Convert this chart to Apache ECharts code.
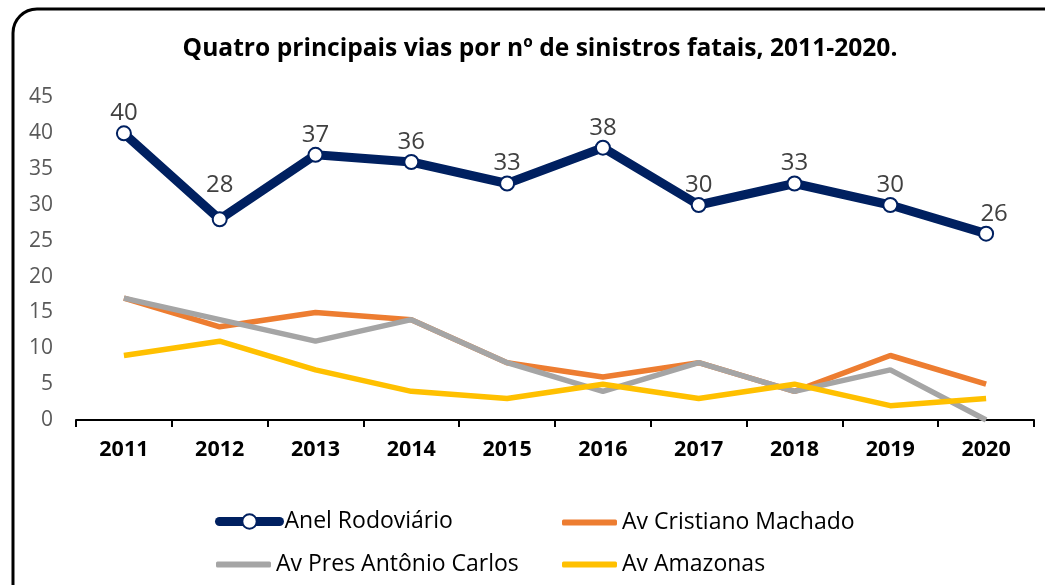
<!DOCTYPE html>
<html>
<head>
<meta charset="utf-8">
<script src="https://cdn.jsdelivr.net/npm/echarts@6/dist/echarts.min.js"></script>
<style>
  html, body { margin: 0; padding: 0; background: #fff; }
  #chart { width: 1045px; height: 585px; }
</style>
</head>
<body>
<div id="chart"></div>
<script>
// Fatal crashes per year on the four main roads
const years = ['2011', '2012', '2013', '2014', '2015', '2016', '2017', '2018', '2019', '2020'];
const anelRodoviario = [40, 28, 37, 36, 33, 38, 30, 33, 30, 26];
const avCristianoMachado = [17, 13, 15, 14, 8, 6, 8, 4, 9, 5];
const avPresAntonioCarlos = [17, 14, 11, 14, 8, 4, 8, 4, 7, 0];
const avAmazonas = [9, 11, 7, 4, 3, 5, 3, 5, 2, 3];
const yTicks = [0, 5, 10, 15, 20, 25, 30, 35, 40, 45];

const FONT = 'Open Sans';
const NAVY = '#002060';
const chart = echarts.init(document.getElementById('chart'), null, { renderer: 'canvas' });

// One legend block per entry so the 2x2 layout can be placed freely
function legendItem(name, left, top, extra) {
  return Object.assign({
    data: [name],
    left: left, top: top,
    orient: 'horizontal',
    itemWidth: 55, itemHeight: 6, itemGap: 2,
    icon: 'roundRect',
    textStyle: { fontFamily: FONT, fontSize: 23, color: '#000' },
    padding: 0
  }, extra || {});
}

// Anel labels: the 2012 label sits a little higher; the 2020 one is nudged right
const anelData = anelRodoviario.map(function (v, i) {
  if (i === 1) {
    return { value: v, label: { distance: 14 } };
  }
  if (i === anelRodoviario.length - 1) {
    return { value: v, label: { offset: [8, 0] } };
  }
  return v;
});

chart.setOption({
  animation: false,
  backgroundColor: '#fff',
  title: {
    text: 'Quatro principais vias por nº de sinistros fatais, 2011-2020.',
    left: 535, top: 31, textAlign: 'center',
    textStyle: { fontFamily: FONT, fontWeight: 'bold', fontSize: 24.6, color: '#000' }
  },
  graphic: [
    {
      type: 'rect',
      shape: { x: 13, y: 9, width: 1080, height: 640, r: 24 },
      style: { fill: 'none', stroke: '#000', lineWidth: 3 },
      silent: true, z: 100
    }
  ],
  legend: [
    legendItem('Anel Rodoviário', 215, 510, {
      itemWidth: 60, itemHeight: 18, icon: undefined,
      lineStyle: { width: 9, cap: 'round' }
    }),
    legendItem('Av Cristiano Machado', 562, 511),
    legendItem('Av Pres Antônio Carlos', 216, 553),
    legendItem('Av Amazonas', 562, 553)
  ],
  grid: { left: 76, right: 11, top: 97.5, bottom: 165, containLabel: false },
  xAxis: {
    type: 'category',
    data: years,
    boundaryGap: true,
    axisLine: { lineStyle: { color: '#000', width: 2 } },
    axisTick: { show: true, length: 7, lineStyle: { color: '#000', width: 2 } },
    axisLabel: { fontFamily: FONT, fontWeight: 'bold', fontSize: 21.5, color: '#000', margin: 19 }
  },
  yAxis: {
    type: 'value',
    min: yTicks[0], max: yTicks[yTicks.length - 1], interval: 5,
    axisLine: { show: false },
    axisTick: { show: false },
    splitLine: { show: false },
    axisLabel: { fontFamily: FONT, fontSize: 21, color: '#595959', margin: 23 }
  },
  series: [
    {
      name: 'Anel Rodoviário', type: 'line', data: anelData, z: 5,
      lineStyle: { color: NAVY, width: 9 },
      itemStyle: { color: '#fff', borderColor: NAVY, borderWidth: 2 },
      symbol: 'circle', symbolSize: 14, showAllSymbol: true,
      label: { show: true, position: 'top', distance: 0, fontFamily: FONT, fontSize: 24, color: '#404040' }
    },
    {
      name: 'Av Cristiano Machado', type: 'line', data: avCristianoMachado, z: 2,
      lineStyle: { color: '#ED7D31', width: 5.5 }, itemStyle: { color: '#ED7D31' },
      symbol: 'none'
    },
    {
      name: 'Av Pres Antônio Carlos', type: 'line', data: avPresAntonioCarlos, z: 3,
      lineStyle: { color: '#A5A5A5', width: 5.5 }, itemStyle: { color: '#A5A5A5' },
      symbol: 'none'
    },
    {
      name: 'Av Amazonas', type: 'line', data: avAmazonas, z: 4,
      lineStyle: { color: '#FFC000', width: 5.5 }, itemStyle: { color: '#FFC000' },
      symbol: 'none'
    }
  ]
});
</script>
</body>
</html>
